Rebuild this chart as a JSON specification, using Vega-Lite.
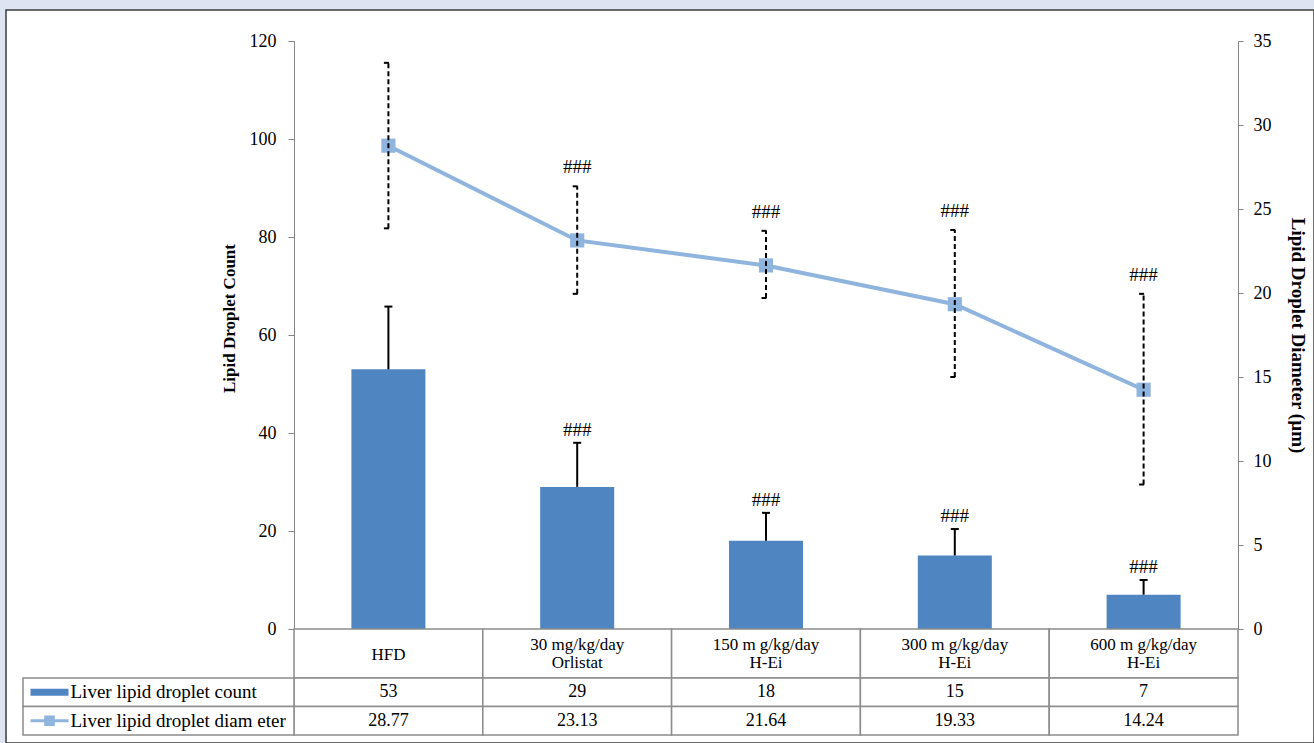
{
  "$schema": "https://vega.github.io/schema/vega-lite/v6.json",
  "width": 1308,
  "height": 733,
  "autosize": {"type": "none"},
  "padding": {"left": 6, "top": 10, "right": 0, "bottom": 0},
  "background": "#dfe4f2",
  "config": {
    "font": "Liberation Serif",
    "view": {"stroke": "#3c3c3c", "strokeWidth": 1.5, "fill": "white"}
  },
  "datasets": {
    "main": [
      {"group": "HFD", "header": "HFD", "count": 53, "count_hi": 65.8, "diam": 28.77, "diam_lo": 23.85, "diam_hi": 33.7, "sig": ""},
      {"group": "Orlistat30", "header": "30 mg/kg/day\nOrlistat", "count": 29, "count_hi": 38.0, "diam": 23.13, "diam_lo": 19.95, "diam_hi": 26.35, "sig": "###"},
      {"group": "HEi150", "header": "150 m g/kg/day\nH-Ei", "count": 18, "count_hi": 23.7, "diam": 21.64, "diam_lo": 19.7, "diam_hi": 23.7, "sig": "###"},
      {"group": "HEi300", "header": "300 m g/kg/day\nH-Ei", "count": 15, "count_hi": 20.4, "diam": 19.33, "diam_lo": 15.0, "diam_hi": 23.75, "sig": "###"},
      {"group": "HEi600", "header": "600 m g/kg/day\nH-Ei", "count": 7, "count_hi": 10.0, "diam": 14.24, "diam_lo": 8.6, "diam_hi": 19.95, "sig": "###"}
    ],
    "legend": [
      {"row": "count", "name": "Liver lipid droplet count"},
      {"row": "diam", "name": "Liver lipid droplet diam eter"}
    ]
  },
  "layer": [
    {
      "data": {"name": "main"},
      "encoding": {
        "x": {"field": "group", "type": "nominal", "sort": null, "axis": null,
              "scale": {"type": "band", "domain": ["HFD", "Orlistat30", "HEi150", "HEi300", "HEi600"], "range": [288, 1232], "paddingInner": 0, "paddingOuter": 0}},
        "y": {"field": "count", "type": "quantitative",
              "scale": {"domain": [0, 120], "range": [619, 31], "nice": false},
              "axis": {"title": "Lipid Droplet Count", "offset": -288, "values": [0, 20, 40, 60, 80, 100, 120],
                       "grid": false, "tickSize": 6, "labelPadding": 12, "domainColor": "#868686", "tickColor": "#868686",
                       "labelFontSize": 18, "labelColor": "#000000", "titleFontSize": 17, "titleFontWeight": "bold", "titleColor": "#000000",
                       "titleX": -65, "titleY": 308, "titleBaseline": "middle", "titleAngle": -90}}
      },
      "layer": [
        {"mark": {"type": "bar", "color": "#4f86c1", "width": {"band": 0.392}}},
        {"mark": {"type": "rule", "color": "#000000", "strokeWidth": 2},
         "encoding": {"y": {"field": "count", "type": "quantitative"}, "y2": {"field": "count_hi"}}},
        {"mark": {"type": "tick", "color": "#000000", "size": 8, "thickness": 2, "opacity": 1},
         "encoding": {"y": {"field": "count_hi", "type": "quantitative"}}},
        {"mark": {"type": "text", "baseline": "bottom", "dy": -3, "fontSize": 19, "color": "#000000"},
         "encoding": {"y": {"field": "count_hi", "type": "quantitative"}, "text": {"field": "sig"}}}
      ]
    },
    {
      "data": {"name": "main"},
      "encoding": {
        "x": {"field": "group", "type": "nominal", "sort": null, "axis": null,
              "scale": {"type": "band", "domain": ["HFD", "Orlistat30", "HEi150", "HEi300", "HEi600"], "range": [288, 1232], "paddingInner": 0, "paddingOuter": 0}},
        "y": {"field": "diam", "type": "quantitative",
              "scale": {"domain": [0, 35], "range": [619, 31], "nice": false},
              "axis": {"title": "Lipid Droplet Diameter (µm)", "orient": "right", "offset": -76, "values": [0, 5, 10, 15, 20, 25, 30, 35],
                       "grid": false, "tickSize": 5, "labelPadding": 10, "domainColor": "#868686", "tickColor": "#868686",
                       "labelFontSize": 18, "labelColor": "#000000", "titleFontSize": 19, "titleFontWeight": "bold", "titleColor": "#000000",
                       "titleX": 59, "titleBaseline": "middle", "titleAngle": 90}}
      },
      "layer": [
        {"mark": {"type": "line", "color": "#8fb4de", "strokeWidth": 4}},
        {"mark": {"type": "point", "shape": "square", "filled": true, "size": 200, "color": "#8fb4de", "opacity": 1}},
        {"mark": {"type": "rule", "color": "#000000", "strokeWidth": 2, "strokeDash": [5, 3]},
         "encoding": {"y": {"field": "diam_lo", "type": "quantitative"}, "y2": {"field": "diam_hi"}}},
        {"mark": {"type": "tick", "color": "#000000", "size": 5, "thickness": 2, "xOffset": -2, "opacity": 1},
         "encoding": {"y": {"field": "diam_hi", "type": "quantitative"}}},
        {"mark": {"type": "tick", "color": "#000000", "size": 5, "thickness": 2, "xOffset": -2, "opacity": 1},
         "encoding": {"y": {"field": "diam_lo", "type": "quantitative"}}},
        {"mark": {"type": "text", "baseline": "bottom", "dy": -9, "fontSize": 19, "color": "#000000"},
         "encoding": {"y": {"field": "diam_hi", "type": "quantitative"}, "text": {"field": "sig"}}}
      ]
    },
    {
      "data": {"name": "main"},
      "encoding": {
        "x": {"field": "group", "type": "nominal", "sort": null, "axis": null,
              "scale": {"type": "band", "domain": ["HFD", "Orlistat30", "HEi150", "HEi300", "HEi600"], "range": [288, 1232], "paddingInner": 0, "paddingOuter": 0}},
        "y": {"datum": "header", "type": "nominal", "axis": null,
              "scale": {"type": "band", "domain": ["header"], "range": [619, 668], "paddingInner": 0, "paddingOuter": 0}}
      },
      "layer": [
        {"mark": {"type": "rect", "fill": "white", "stroke": "#8c8c8c", "strokeWidth": 1.5}},
        {"transform": [{"filter": "datum.group != 'HFD'"}],
         "mark": {"type": "text", "lineBreak": "\n", "baseline": "middle", "dy": -9, "fontSize": 17, "lineHeight": 18, "color": "#000000"},
         "encoding": {"text": {"field": "header"}}},
        {"transform": [{"filter": "datum.group == 'HFD'"}],
         "mark": {"type": "text", "baseline": "middle", "dy": 1, "fontSize": 17, "color": "#000000"},
         "encoding": {"text": {"field": "header"}}}
      ]
    },
    {
      "data": {"name": "main"},
      "encoding": {
        "x": {"field": "group", "type": "nominal", "sort": null, "axis": null,
              "scale": {"type": "band", "domain": ["HFD", "Orlistat30", "HEi150", "HEi300", "HEi600"], "range": [288, 1232], "paddingInner": 0, "paddingOuter": 0}}
      },
      "layer": [
        {"mark": {"type": "rect", "fill": "white", "stroke": "#8c8c8c", "strokeWidth": 1.5},
         "encoding": {"y": {"datum": "count", "type": "nominal", "axis": null,
                            "scale": {"type": "band", "domain": ["count", "diam"], "range": [668, 725], "paddingInner": 0, "paddingOuter": 0}}}},
        {"mark": {"type": "rect", "fill": "white", "stroke": "#8c8c8c", "strokeWidth": 1.5},
         "encoding": {"y": {"datum": "diam", "type": "nominal", "axis": null}}},
        {"mark": {"type": "text", "baseline": "middle", "fontSize": 18, "color": "#000000"},
         "encoding": {"y": {"datum": "count", "type": "nominal", "axis": null}, "text": {"field": "count", "type": "quantitative", "format": "d"}}},
        {"mark": {"type": "text", "baseline": "middle", "fontSize": 18, "color": "#000000"},
         "encoding": {"y": {"datum": "diam", "type": "nominal", "axis": null}, "text": {"field": "diam", "type": "quantitative", "format": ".2f"}}}
      ]
    },
    {
      "data": {"name": "legend"},
      "encoding": {
        "x": {"datum": "legend", "type": "nominal", "axis": null,
              "scale": {"type": "band", "domain": ["legend"], "range": [17, 288], "paddingInner": 0, "paddingOuter": 0}},
        "y": {"field": "row", "type": "nominal", "axis": null,
              "scale": {"type": "band", "domain": ["count", "diam"], "range": [668, 725], "paddingInner": 0, "paddingOuter": 0}}
      },
      "layer": [
        {"mark": {"type": "rect", "fill": "white", "stroke": "#8c8c8c", "strokeWidth": 1.5}},
        {"mark": {"type": "text", "align": "left", "baseline": "middle", "dx": -88, "fontSize": 19, "color": "#000000"},
         "encoding": {"text": {"field": "name"}}},
        {"transform": [{"filter": "datum.row == 'count'"}],
         "mark": {"type": "point", "shape": "M-1,-0.18H1V0.18H-1Z", "filled": true, "size": 1444, "color": "#4f86c1", "opacity": 1, "strokeWidth": 0, "xOffset": -109}},
        {"transform": [{"filter": "datum.row == 'diam'"}],
         "mark": {"type": "point", "shape": "M-1,-0.08H1V0.08H-1Z M-0.28,-0.28H0.28V0.28H-0.28Z", "filled": true, "size": 1444, "color": "#8fb4de", "opacity": 1, "strokeWidth": 0, "xOffset": -109}}
      ]
    }
  ],
  "resolve": {
    "scale": {"x": "independent", "y": "independent"},
    "axis": {"x": "independent", "y": "independent"}
  }
}
